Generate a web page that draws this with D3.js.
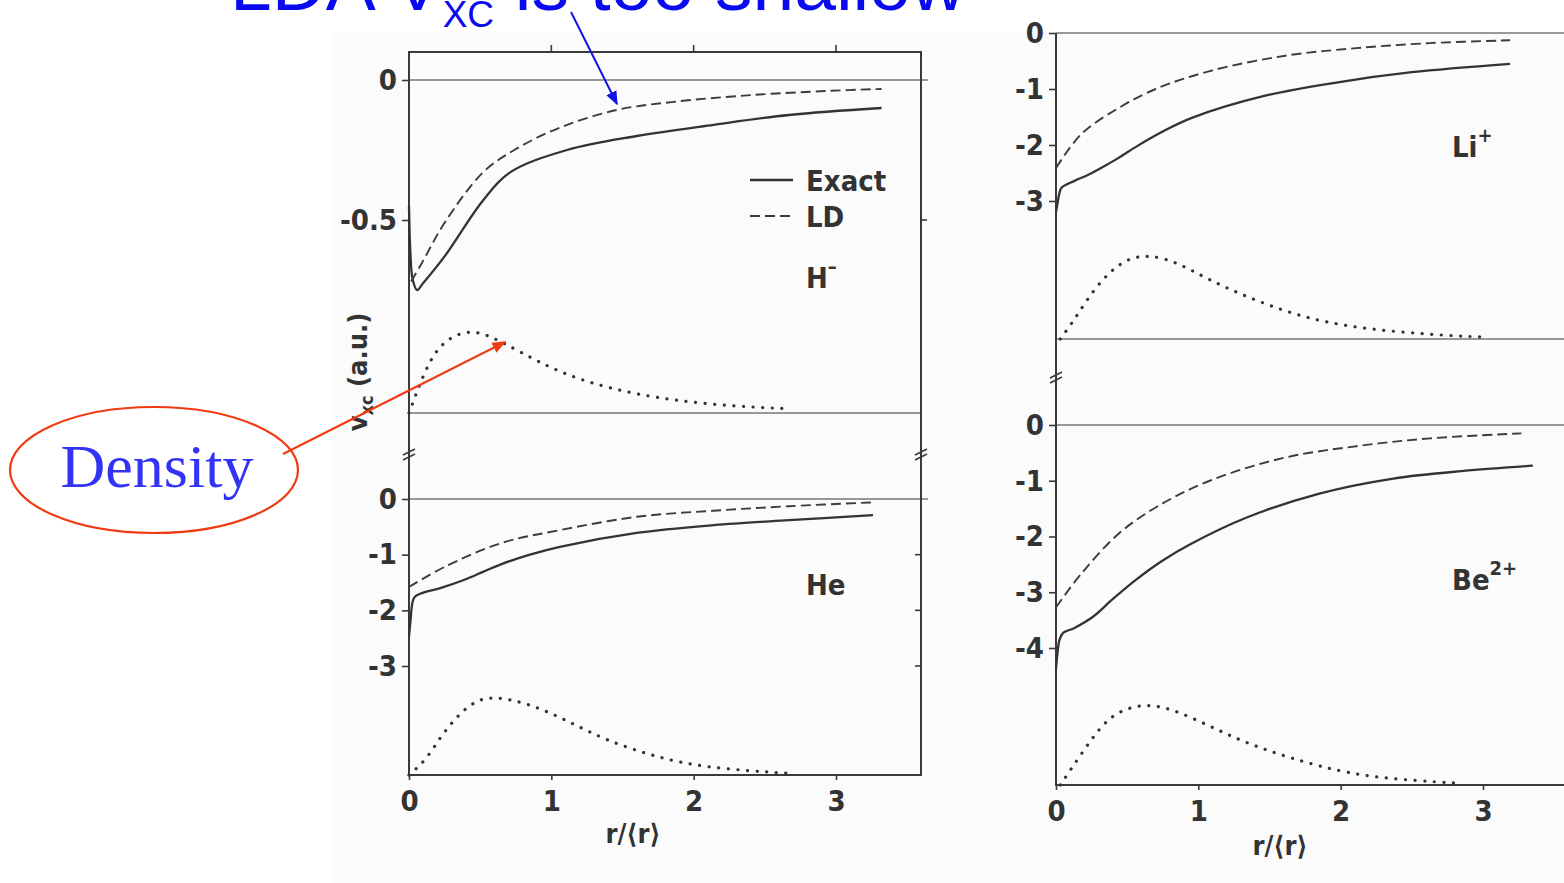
<!DOCTYPE html>
<html><head><meta charset="utf-8">
<script src="https://cdn.jsdelivr.net/npm/d3@7"></script>
<style>body{margin:0;background:#fff;overflow:hidden}svg{display:block}</style>
</head><body>
<svg id="c" width="1564" height="883"></svg>
<script>
// ---------------- DATA ----------------
// H- panel
const hExactR = [0, 0.01, 0.025, 0.056, 0.1, 0.25, 0.52, 0.71, 1.11, 1.60, 2.14, 2.67, 3.32];
const hExactV = [-0.45, -0.62, -0.71, -0.75, -0.725, -0.63, -0.43, -0.33, -0.25, -0.20, -0.16, -0.125, -0.10];
const hLdR = [0.015, 0.1, 0.25, 0.52, 0.74, 1.06, 1.46, 1.86, 2.40, 2.94, 3.32];
const hLdV = [-0.72, -0.645, -0.51, -0.33, -0.25, -0.17, -0.107, -0.078, -0.054, -0.039, -0.032];
const hDenR = [0, 0.06, 0.145, 0.25, 0.44, 0.65, 0.92, 1.19, 1.60, 2.14, 2.67];
const hDen = [0, 0.27, 0.62, 0.86, 1.0, 0.84, 0.59, 0.39, 0.21, 0.09, 0.05];
// He panel
const heExactR = [0, 0.01, 0.025, 0.04, 0.09, 0.22, 0.39, 0.52, 0.65, 0.85, 1.06, 1.60, 2.14, 2.67, 3.26];
const heExactV = [-2.47, -2.2, -1.85, -1.76, -1.69, -1.60, -1.45, -1.31, -1.17, -1.0, -0.86, -0.61, -0.47, -0.38, -0.29];
const heLdR = [0, 0.25, 0.65, 1.06, 1.60, 2.14, 2.67, 3.26];
const heLdV = [-1.58, -1.22, -0.79, -0.56, -0.32, -0.21, -0.13, -0.06];
const heDenR = [0, 0.12, 0.22, 0.33, 0.46, 0.60, 0.85, 1.11, 1.38, 1.73, 2.08, 2.67];
const heDen = [0, 0.19, 0.48, 0.73, 0.94, 1.0, 0.90, 0.69, 0.44, 0.23, 0.09, 0.02];
// Li+ panel
const liExactR = [0, 0.01, 0.025, 0.04, 0.13, 0.22, 0.31, 0.44, 0.57, 0.75, 0.95, 1.47, 1.98, 2.50, 3.19];
const liExactV = [-3.2, -3.05, -2.85, -2.76, -2.64, -2.54, -2.42, -2.23, -2.02, -1.76, -1.52, -1.12, -0.88, -0.70, -0.55];
const liLdR = [0, 0.18, 0.44, 0.70, 1.08, 1.60, 2.11, 2.63, 3.19];
const liLdV = [-2.41, -1.80, -1.34, -1.0, -0.68, -0.41, -0.27, -0.18, -0.13];
const liDenR = [0.03, 0.13, 0.26, 0.39, 0.51, 0.64, 0.82, 1.08, 1.34, 1.72, 2.11, 2.63, 3.04];
const liDen = [0, 0.23, 0.58, 0.82, 0.96, 1.0, 0.94, 0.70, 0.50, 0.26, 0.13, 0.05, 0.02];
// Be2+ panel
const beExactR = [0, 0.01, 0.025, 0.05, 0.13, 0.26, 0.40, 0.57, 0.75, 0.95, 1.34, 1.85, 2.37, 2.88, 3.35];
const beExactV = [-4.38, -4.1, -3.85, -3.73, -3.64, -3.44, -3.12, -2.76, -2.43, -2.13, -1.66, -1.23, -0.96, -0.82, -0.73];
const beLdR = [0, 0.18, 0.44, 0.70, 1.08, 1.60, 2.11, 2.63, 3.27];
const beLdV = [-3.27, -2.66, -1.95, -1.48, -1.0, -0.59, -0.38, -0.24, -0.15];
const beDenR = [0.03, 0.18, 0.31, 0.44, 0.67, 0.95, 1.21, 1.47, 1.85, 2.24, 2.85];
const beDen = [0, 0.38, 0.70, 0.90, 1.0, 0.82, 0.60, 0.42, 0.22, 0.08, 0.02];
// ticks
const xTicks = [0, 1, 2, 3];
const xTickLabels = ["0", "1", "2", "3"];
const hTicks = [0, -0.5];
const hTickLabels = ["0", "-0.5"];
const heTicks = [0, -1, -2, -3];
const heTickLabels = ["0", "-1", "-2", "-3"];
const liTicks = [0, -1, -2, -3];
const liTickLabels = ["0", "-1", "-2", "-3"];
const beTicks = [0, -1, -2, -3, -4];
const beTickLabels = ["0", "-1", "-2", "-3", "-4"];
const legendLabels = ["Exact", "LD"];

// ---------------- DRAW ----------------
const svg = d3.select("#c");
const FONT = "'DejaVu Sans Condensed', 'DejaVu Sans', sans-serif";
const INK = "#333";
svg.append("rect").attr("width", 1564).attr("height", 883).attr("fill", "#fff");
svg.append("rect").attr("x", 331).attr("y", 33).attr("width", 1233).attr("height", 850).attr("fill", "#fbfbfb");

const defs = svg.append("defs");
function marker(id, color) {
  defs.append("marker").attr("id", id).attr("viewBox", "0 0 10 10").attr("refX", 9).attr("refY", 5)
    .attr("markerWidth", 7).attr("markerHeight", 7).attr("orient", "auto-start-reverse")
    .append("path").attr("d", "M0,1 L10,5 L0,9 z").attr("fill", color);
}
marker("blueArrow", "#1010e8");
marker("redArrow", "#f03a12");

const zip = (a, b) => a.map((v, i) => [v, b[i]]);

function hline(y, x1, x2, w, c) {
  svg.append("line").attr("x1", x1).attr("x2", x2).attr("y1", y).attr("y2", y)
    .attr("stroke", c || "#777").attr("stroke-width", w || 1.3);
}
function vline(x, y1, y2, w, c) {
  svg.append("line").attr("x1", x).attr("x2", x).attr("y1", y1).attr("y2", y2)
    .attr("stroke", c || "#3a3a3a").attr("stroke-width", w || 2);
}
function breakMark(x, y) {
  [0, 5].forEach(d => {
    svg.append("line").attr("x1", x - 6).attr("x2", x + 6).attr("y1", y + d + 3).attr("y2", y + d - 3)
      .attr("stroke", "#3a3a3a").attr("stroke-width", 1.6);
  });
}
function drawCurves(x, y, yd, exR, exV, ldR, ldV, dR, dV) {
  const lineV = d3.line().x(d => x(d[0])).y(d => y(d[1])).curve(d3.curveCatmullRom.alpha(0.5));
  const lineD = d3.line().x(d => x(d[0])).y(d => yd(d[1])).curve(d3.curveBasis);
  svg.append("path").attr("d", lineV(zip(exR, exV))).attr("fill", "none")
    .attr("stroke", INK).attr("stroke-width", 2.3);
  svg.append("path").attr("d", lineV(zip(ldR, ldV))).attr("fill", "none")
    .attr("stroke", "#3c3c3c").attr("stroke-width", 1.9).attr("stroke-dasharray", "10,5");
  svg.append("path").attr("d", lineD(zip(dR, dV))).attr("fill", "none")
    .attr("stroke", "#333").attr("stroke-width", 3.2).attr("stroke-linecap", "round")
    .attr("stroke-dasharray", "0.1,9.5");
}
function yAxis(scale, ticks, labels, x) {
  const g = svg.append("g").attr("transform", `translate(${x},0)`)
    .call(d3.axisLeft(scale).tickValues(ticks).tickSize(7).tickPadding(5)
      .tickFormat((d, i) => labels[i]));
  g.select(".domain").remove();
  g.selectAll("line").attr("stroke", "#3a3a3a").attr("stroke-width", 1.6);
  g.selectAll("text").attr("font-family", FONT).attr("font-size", 29).attr("font-weight", "bold").attr("fill", INK);
}
function xAxis(scale, y) {
  const g = svg.append("g").attr("transform", `translate(0,${y})`)
    .call(d3.axisBottom(scale).tickValues(xTicks).tickSize(5).tickPadding(10)
      .tickFormat((d, i) => xTickLabels[i]));
  g.select(".domain").remove();
  g.selectAll("line").attr("stroke", "#3a3a3a").attr("stroke-width", 1.6);
  g.selectAll("text").attr("font-family", FONT).attr("font-size", 29).attr("font-weight", "bold").attr("fill", INK);
}
function label(txt, x, y, size, anchor) {
  return svg.append("text").attr("x", x).attr("y", y).attr("font-family", FONT)
    .attr("font-size", size || 29).attr("font-weight", "bold").attr("fill", INK)
    .attr("text-anchor", anchor || "start").text(txt);
}
function ionLabel(base, sup, x, y) {
  const t = svg.append("text").attr("x", x).attr("y", y).attr("font-family", FONT)
    .attr("font-size", 29).attr("font-weight", "bold").attr("fill", INK);
  t.append("tspan").text(base);
  t.append("tspan").attr("font-size", 20).attr("dy", -15).text(sup);
}

// ---- Left panel (H-, He) ----
const xL = d3.scaleLinear().domain([0, 3]).range([409, 836]);
const yH = d3.scaleLinear().domain([0, -0.5]).range([80, 220]);
const yHd = d3.scaleLinear().domain([0, 1]).range([413, 328]);
const yHe = d3.scaleLinear().domain([0, -3]).range([499, 666]);
const yHed = d3.scaleLinear().domain([0, 1]).range([775, 696]);

hline(yH(0), xL(0), 928);
hline(yHd(0), xL(0), 921);
hline(yHe(0), xL(0), 928);
// frame
hline(52, 408, 922, 2.2, "#3a3a3a");
hline(775, 408, 922, 2, "#3a3a3a");
vline(409, 52, 776);
vline(921, 52, 776);
[1, 2, 3].forEach(t => svg.append("line").attr("x1", xL(t)).attr("x2", xL(t)).attr("y1", 52).attr("y2", 45)
  .attr("stroke", "#3a3a3a").attr("stroke-width", 1.6));
[-0.5].forEach(t => svg.append("line").attr("x1", 921).attr("x2", 927).attr("y1", yH(t)).attr("y2", yH(t))
  .attr("stroke", "#3a3a3a").attr("stroke-width", 1.6));
[-1, -2, -3].forEach(t => svg.append("line").attr("x1", 915).attr("x2", 921).attr("y1", yHe(t)).attr("y2", yHe(t))
  .attr("stroke", "#3a3a3a").attr("stroke-width", 1.6));
breakMark(409, 452);
breakMark(921, 452);
yAxis(yH, hTicks, hTickLabels, 409);
yAxis(yHe, heTicks, heTickLabels, 409);
xAxis(xL, 775);
label("r/\u27E8r\u27E9", 633, 843, 27, "middle");
drawCurves(xL, yH, yHd, hExactR, hExactV, hLdR, hLdV, hDenR, hDen);
drawCurves(xL, yHe, yHed, heExactR, heExactV, heLdR, heLdV, heDenR, heDen);
// legend
hline(180, 750, 793, 2.3, INK);
svg.append("line").attr("x1", 750).attr("x2", 793).attr("y1", 216).attr("y2", 216)
  .attr("stroke", "#3c3c3c").attr("stroke-width", 1.9).attr("stroke-dasharray", "10,5");
label(legendLabels[0], 806, 191);
label(legendLabels[1], 806, 227);
ionLabel("H", "\u2013", 806, 288);
label("He", 806, 595);
// y-axis title
const yt = svg.append("text").attr("transform", "translate(367,372) rotate(-90)")
  .attr("text-anchor", "middle").attr("font-family", FONT).attr("font-size", 27)
  .attr("font-weight", "bold").attr("fill", INK);
yt.append("tspan").text("v");
yt.append("tspan").attr("font-size", 18).attr("dy", 6).text("xc");
yt.append("tspan").attr("dy", -6).text(" (a.u.)");

// ---- Right panel (Li+, Be2+) ----
const xR = d3.scaleLinear().domain([0, 3]).range([1056, 1483]);
const yLi = d3.scaleLinear().domain([0, -3]).range([33, 201]);
const yLid = d3.scaleLinear().domain([0, 1]).range([339, 255]);
const yBe = d3.scaleLinear().domain([0, -4]).range([425, 648]);
const yBed = d3.scaleLinear().domain([0, 1]).range([785, 702]);

hline(yLi(0), xR(0), 1564);
hline(yLid(0), xR(0), 1564);
hline(yBe(0), xR(0), 1564);
hline(785, 1055, 1564, 2, "#3a3a3a");
vline(1056, 33, 786);
breakMark(1056, 375);
yAxis(yLi, liTicks, liTickLabels, 1056);
yAxis(yBe, beTicks, beTickLabels, 1056);
xAxis(xR, 785);
label("r/\u27E8r\u27E9", 1280, 855, 27, "middle");
drawCurves(xR, yLi, yLid, liExactR, liExactV, liLdR, liLdV, liDenR, liDen);
drawCurves(xR, yBe, yBed, beExactR, beExactV, beLdR, beLdV, beDenR, beDen);
ionLabel("Li", "+", 1452, 157);
ionLabel("Be", "2+", 1452, 590);

// ---- Annotations ----
const title = svg.append("text").attr("x", 230).attr("y", 10)
  .attr("font-family", "'Liberation Sans', Arial, sans-serif").attr("font-size", 75).attr("fill", "#0a0af0");
title.append("tspan").text("LDA V");
title.append("tspan").attr("font-size", 37).attr("dy", 17).text("XC");
title.append("tspan").attr("dy", -17).text(" is too shallow");
svg.append("line").attr("x1", 571).attr("y1", 12).attr("x2", 617).attr("y2", 104)
  .attr("stroke", "#1010e8").attr("stroke-width", 2).attr("marker-end", "url(#blueArrow)");

svg.append("ellipse").attr("cx", 154).attr("cy", 470).attr("rx", 144).attr("ry", 63)
  .attr("fill", "none").attr("stroke", "#f03a12").attr("stroke-width", 2.2);
svg.append("text").attr("x", 157).attr("y", 487).attr("text-anchor", "middle")
  .attr("font-family", "'Liberation Serif', 'Times New Roman', serif").attr("font-size", 62)
  .attr("fill", "#3333f5").text("Density");
svg.append("line").attr("x1", 283).attr("y1", 454).attr("x2", 505).attr("y2", 342)
  .attr("stroke", "#f03a12").attr("stroke-width", 2).attr("marker-end", "url(#redArrow)");
</script>
</body></html>
